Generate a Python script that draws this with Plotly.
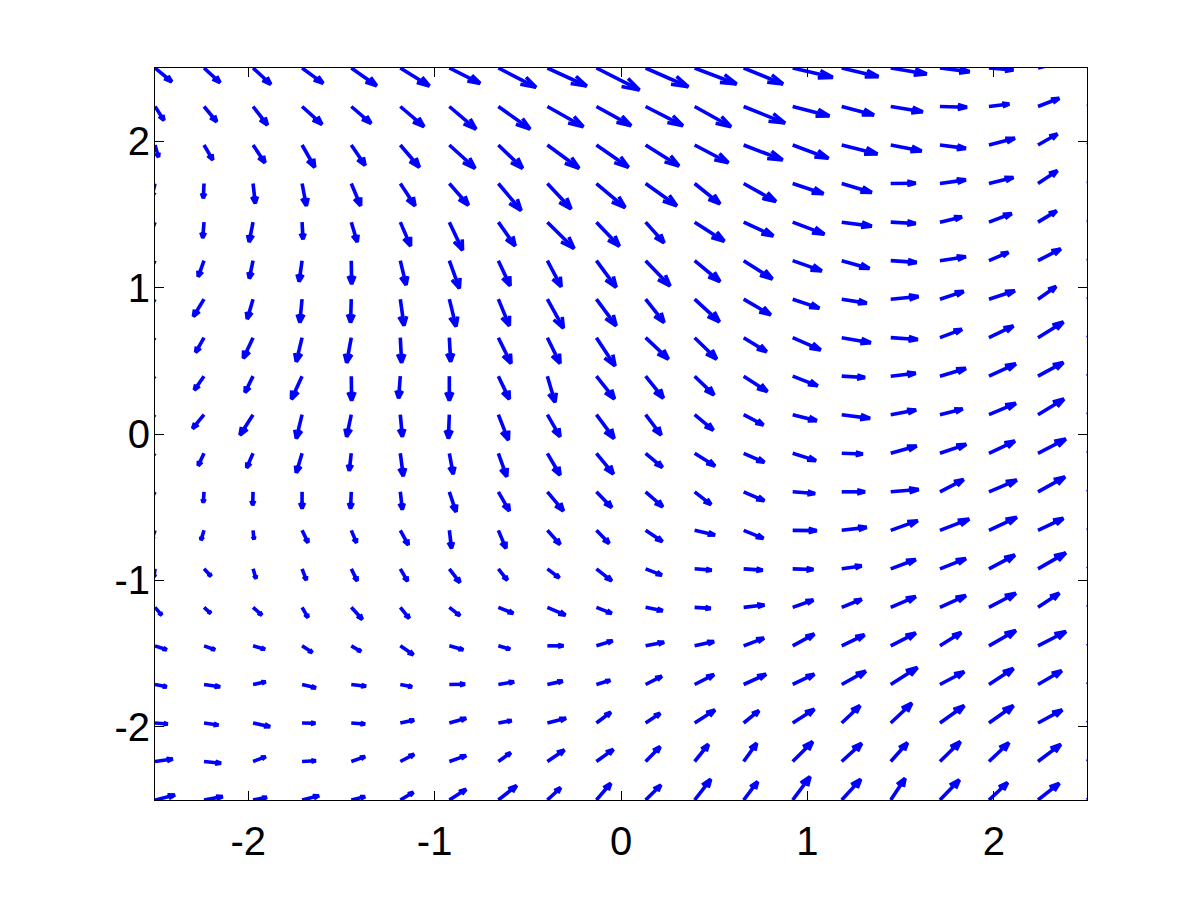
import numpy as np
import plotly.figure_factory as ff
import plotly.graph_objects as go

# Grid positions (20 x 20), x left->right, y top->bottom
X_VALUES = [-2.5, -2.237, -1.974, -1.711, -1.447, -1.184, -0.921, -0.658, -0.395, -0.132,
            0.132, 0.395, 0.658, 0.921, 1.184, 1.447, 1.711, 1.974, 2.237, 2.5]
Y_VALUES = [2.5, 2.237, 1.974, 1.711, 1.447, 1.184, 0.921, 0.658, 0.395, 0.132,
            -0.132, -0.395, -0.658, -0.921, -1.184, -1.447, -1.711, -1.974, -2.237, -2.5]

# Arrow x-components, one row per Y_VALUES entry
U = [
    [0.090, 0.086, 0.095, 0.113, 0.136, 0.156, 0.165, 0.202, 0.211, 0.231, 0.229, 0.225, 0.211, 0.215, 0.197, 0.193, 0.159, 0.131, 0.107, 0.107],
    [0.048, 0.068, 0.077, 0.107, 0.106, 0.127, 0.143, 0.170, 0.193, 0.186, 0.200, 0.195, 0.222, 0.197, 0.173, 0.172, 0.145, 0.109, 0.114, 0.107],
    [0.019, 0.047, 0.064, 0.068, 0.074, 0.102, 0.138, 0.130, 0.170, 0.172, 0.179, 0.181, 0.209, 0.192, 0.192, 0.166, 0.139, 0.139, 0.104, 0.107],
    [-0.016, -0.004, 0.012, 0.023, 0.050, 0.079, 0.102, 0.122, 0.127, 0.154, 0.167, 0.136, 0.173, 0.165, 0.161, 0.134, 0.139, 0.131, 0.104, 0.107],
    [-0.027, -0.007, -0.021, 0.005, 0.032, 0.055, 0.071, 0.090, 0.143, 0.123, 0.099, 0.159, 0.159, 0.170, 0.161, 0.134, 0.118, 0.122, 0.100, 0.107],
    [-0.038, -0.031, -0.020, -0.016, 0.002, 0.031, 0.054, 0.063, 0.074, 0.106, 0.131, 0.136, 0.154, 0.156, 0.149, 0.139, 0.139, 0.104, 0.122, 0.107],
    [-0.048, -0.057, -0.031, -0.012, -0.004, 0.020, 0.036, 0.059, 0.086, 0.106, 0.099, 0.133, 0.145, 0.143, 0.134, 0.149, 0.127, 0.139, 0.097, 0.107],
    [-0.054, -0.045, -0.052, -0.031, -0.025, 0.007, 0.007, 0.068, 0.068, 0.100, 0.122, 0.118, 0.123, 0.150, 0.156, 0.145, 0.118, 0.131, 0.136, 0.118],
    [-0.054, -0.052, -0.043, -0.057, 0.002, -0.009, 0.000, 0.059, 0.041, 0.097, 0.095, 0.104, 0.127, 0.134, 0.125, 0.134, 0.139, 0.144, 0.136, 0.129],
    [-0.054, -0.061, -0.070, -0.031, -0.025, 0.011, -0.005, 0.054, 0.068, 0.095, 0.083, 0.100, 0.106, 0.129, 0.152, 0.136, 0.122, 0.144, 0.139, 0.134],
    [-0.043, -0.031, -0.034, -0.031, -0.011, 0.016, 0.021, 0.045, 0.068, 0.091, 0.090, 0.109, 0.111, 0.125, 0.113, 0.139, 0.141, 0.139, 0.149, 0.139],
    [-0.027, -0.004, -0.002, 0.000, -0.004, 0.011, 0.036, 0.059, 0.086, 0.082, 0.092, 0.088, 0.111, 0.120, 0.125, 0.150, 0.127, 0.149, 0.145, 0.139],
    [-0.016, -0.016, 0.005, 0.032, 0.028, 0.043, 0.012, 0.041, 0.068, 0.068, 0.090, 0.109, 0.106, 0.129, 0.134, 0.145, 0.157, 0.149, 0.136, 0.134],
    [-0.005, 0.038, 0.016, 0.023, 0.032, 0.039, 0.057, 0.048, 0.064, 0.082, 0.087, 0.091, 0.102, 0.111, 0.107, 0.134, 0.139, 0.139, 0.149, 0.139],
    [0.036, 0.036, 0.047, 0.032, 0.059, 0.048, 0.057, 0.080, 0.097, 0.082, 0.092, 0.086, 0.111, 0.111, 0.107, 0.134, 0.139, 0.144, 0.114, 0.129],
    [0.063, 0.059, 0.064, 0.055, 0.052, 0.070, 0.075, 0.063, 0.086, 0.087, 0.099, 0.104, 0.109, 0.116, 0.122, 0.134, 0.114, 0.144, 0.150, 0.139],
    [0.063, 0.086, 0.068, 0.074, 0.079, 0.063, 0.084, 0.084, 0.082, 0.074, 0.087, 0.104, 0.120, 0.116, 0.129, 0.143, 0.130, 0.131, 0.127, 0.129],
    [0.068, 0.077, 0.091, 0.071, 0.074, 0.074, 0.090, 0.071, 0.100, 0.077, 0.078, 0.109, 0.082, 0.116, 0.098, 0.113, 0.130, 0.131, 0.130, 0.129],
    [0.095, 0.091, 0.068, 0.074, 0.074, 0.074, 0.090, 0.066, 0.091, 0.091, 0.078, 0.074, 0.070, 0.107, 0.107, 0.090, 0.109, 0.107, 0.122, 0.118],
    [0.107, 0.100, 0.074, 0.091, 0.074, 0.070, 0.090, 0.098, 0.071, 0.077, 0.082, 0.086, 0.075, 0.093, 0.102, 0.077, 0.104, 0.100, 0.114, 0.107],
]

# Arrow y-components, one row per Y_VALUES entry
V = [
    [-0.094, -0.100, -0.111, -0.105, -0.121, -0.123, -0.105, -0.132, -0.123, -0.150, -0.128, -0.109, -0.109, -0.064, -0.059, -0.041, -0.025, -0.014, 0.034, 0.034],
    [-0.094, -0.104, -0.126, -0.122, -0.115, -0.138, -0.154, -0.154, -0.138, -0.131, -0.131, -0.138, -0.113, -0.065, -0.058, -0.036, -0.005, 0.017, 0.056, 0.041],
    [-0.082, -0.102, -0.121, -0.152, -0.139, -0.152, -0.159, -0.159, -0.159, -0.152, -0.143, -0.121, -0.102, -0.091, -0.061, -0.041, -0.023, 0.046, 0.075, 0.055],
    [-0.089, -0.100, -0.135, -0.152, -0.152, -0.152, -0.148, -0.184, -0.173, -0.164, -0.152, -0.139, -0.123, -0.070, -0.061, 0.002, 0.025, 0.041, 0.087, 0.055],
    [-0.096, -0.107, -0.135, -0.116, -0.135, -0.162, -0.191, -0.162, -0.180, -0.164, -0.141, -0.130, -0.094, -0.082, -0.027, -0.009, 0.036, 0.059, 0.077, 0.061],
    [-0.102, -0.109, -0.121, -0.143, -0.159, -0.166, -0.189, -0.171, -0.178, -0.182, -0.173, -0.143, -0.125, -0.070, -0.053, -0.012, 0.027, 0.057, 0.080, 0.068],
    [-0.102, -0.118, -0.135, -0.159, -0.159, -0.180, -0.186, -0.182, -0.198, -0.182, -0.159, -0.155, -0.107, -0.061, -0.027, 0.018, 0.053, 0.057, 0.087, 0.068],
    [-0.096, -0.100, -0.141, -0.164, -0.171, -0.171, -0.164, -0.176, -0.176, -0.193, -0.146, -0.146, -0.096, -0.084, -0.034, -0.012, 0.057, 0.080, 0.107, 0.082],
    [-0.089, -0.094, -0.111, -0.157, -0.166, -0.150, -0.166, -0.157, -0.178, -0.155, -0.150, -0.128, -0.105, -0.066, -0.009, 0.020, 0.053, 0.084, 0.094, 0.089],
    [-0.082, -0.094, -0.139, -0.162, -0.150, -0.150, -0.162, -0.173, -0.150, -0.162, -0.139, -0.105, -0.070, -0.041, -0.025, 0.032, 0.039, 0.077, 0.107, 0.096],
    [-0.075, -0.084, -0.098, -0.132, -0.118, -0.155, -0.141, -0.159, -0.148, -0.141, -0.096, -0.087, -0.061, -0.050, -0.005, 0.050, 0.061, 0.084, 0.098, 0.096],
    [-0.068, -0.073, -0.091, -0.114, -0.114, -0.121, -0.137, -0.130, -0.130, -0.107, -0.102, -0.087, -0.061, -0.012, 0.000, 0.016, 0.084, 0.080, 0.102, 0.096],
    [-0.061, -0.066, -0.061, -0.084, -0.084, -0.100, -0.123, -0.123, -0.096, -0.089, -0.077, -0.032, -0.055, -0.002, 0.020, 0.066, 0.077, 0.089, 0.082, 0.089],
    [-0.055, -0.050, -0.066, -0.077, -0.082, -0.084, -0.094, -0.077, -0.061, -0.082, -0.043, -0.009, -0.009, -0.005, 0.020, 0.064, 0.070, 0.094, 0.109, 0.102],
    [-0.053, -0.041, -0.053, -0.070, -0.082, -0.075, -0.057, -0.041, -0.053, -0.041, -0.023, -0.007, 0.016, 0.050, 0.055, 0.073, 0.080, 0.096, 0.096, 0.096],
    [-0.027, -0.027, -0.023, -0.046, -0.039, -0.061, -0.027, -0.023, 0.000, 0.034, 0.025, 0.029, 0.053, 0.080, 0.075, 0.087, 0.091, 0.105, 0.098, 0.102],
    [-0.016, -0.016, 0.018, -0.023, -0.012, -0.016, 0.002, 0.018, 0.023, 0.029, 0.057, 0.068, 0.070, 0.070, 0.091, 0.116, 0.087, 0.109, 0.094, 0.102],
    [-0.007, -0.014, -0.025, -0.002, -0.007, 0.020, 0.032, 0.016, 0.032, 0.073, 0.066, 0.089, 0.084, 0.094, 0.118, 0.135, 0.118, 0.118, 0.089, 0.102],
    [0.017, -0.012, 0.033, 0.005, 0.033, 0.049, 0.040, 0.060, 0.079, 0.083, 0.101, 0.117, 0.124, 0.135, 0.124, 0.128, 0.135, 0.128, 0.117, 0.116],
    [0.034, 0.023, 0.018, 0.029, 0.023, 0.053, 0.073, 0.098, 0.084, 0.114, 0.102, 0.141, 0.125, 0.159, 0.141, 0.148, 0.137, 0.118, 0.114, 0.116],
]

X_TICKS = [-2, -1, 0, 1, 2]
X_TICK_TEXT = ["-2", "-1", "0", "1", "2"]
Y_TICKS = [-2, -1, 0, 1, 2]
Y_TICK_TEXT = ["-2", "-1", "0", "1", "2"]

gx, gy = np.meshgrid(X_VALUES, Y_VALUES)
xs = gx.ravel().tolist()
ys = gy.ravel().tolist()
us = np.array(U).ravel().tolist()
vs = np.array(V).ravel().tolist()

fig = ff.create_quiver(xs, ys, us, vs, scale=1.0, arrow_scale=0.36, angle=0.33,
                       line=dict(color="rgb(0,0,255)", width=3.6), hoverinfo="skip")

axis_common = dict(
    range=[-2.5, 2.5],
    ticks="inside",
    ticklen=9,
    tickwidth=1,
    tickcolor="black",
    showline=True,
    linecolor="black",
    linewidth=1,
    mirror="ticks",
    showgrid=False,
    zeroline=False,
    tickfont=dict(family="Liberation Sans, Arial, sans-serif", size=40, color="black"),
)

fig.update_xaxes(tickvals=X_TICKS, ticktext=X_TICK_TEXT, ticklabelstandoff=6, **axis_common)
fig.update_yaxes(tickvals=Y_TICKS, ticktext=Y_TICK_TEXT, ticklabelstandoff=-4, **axis_common)

fig.update_layout(
    width=1201,
    height=900,
    margin=dict(l=147, r=122, t=60, b=108, autoexpand=False),
    plot_bgcolor="white",
    paper_bgcolor="white",
    showlegend=False,
)

fig.write_html("out.html")
